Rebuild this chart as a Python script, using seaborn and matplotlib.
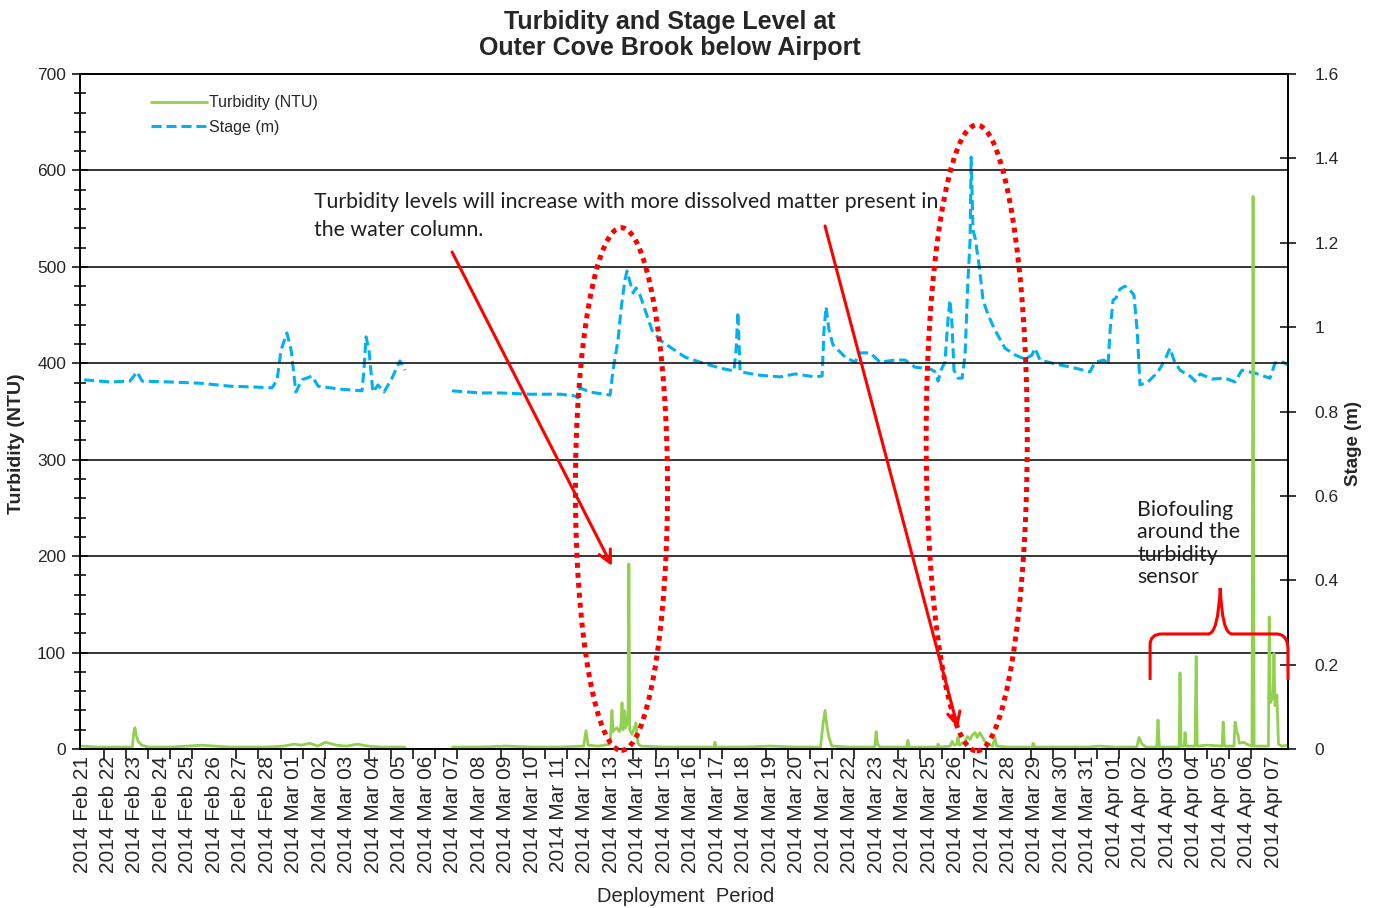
import numpy as np
import pandas as pd
import matplotlib
matplotlib.use("Agg")
import matplotlib.pyplot as plt
from matplotlib.patches import Ellipse, PathPatch
from matplotlib.path import Path
from matplotlib.lines import Line2D
from matplotlib.ticker import FuncFormatter
import seaborn as sns

# ---- data (x = days since 2014-02-21) ----
date_labels = pd.date_range("2014-02-21", "2014-04-07", freq="D").strftime("%Y %b %d").tolist()

stage_day_a = [0.08, 1.06, 1.81, 2.08, 2.27, 3.32, 4.46, 5.59, 6.54, 7.18, 7.37, 7.52, 7.74, 7.90,
               8.08, 8.31, 8.69, 8.92, 9.75, 10.58, 10.65, 10.73, 10.84, 10.99, 11.18, 11.41,
               11.71, 12.01, 12.20]
stage_val_a = [0.875, 0.870, 0.872, 0.894, 0.872, 0.870, 0.867, 0.860, 0.858, 0.856, 0.875, 0.946,
               0.986, 0.946, 0.846, 0.875, 0.884, 0.860, 0.853, 0.849, 0.898, 0.977, 0.946, 0.846,
               0.863, 0.846, 0.879, 0.920, 0.898]

stage_day_b = [13.98, 15.04, 15.79, 16.92, 18.06, 18.62, 18.74, 18.81, 19.19, 19.95, 20.06, 20.25,
               20.36, 20.51, 20.59, 20.70, 20.82, 20.93, 21.08, 21.27, 21.53, 21.84, 22.21, 22.78,
               23.35, 24.10, 24.63, 24.71, 24.78, 24.86, 25.61, 26.37, 26.94, 27.69, 27.96, 28.03,
               28.11, 28.22, 28.37, 28.83, 29.20, 29.39, 29.77, 30.15, 30.71, 31.09, 31.47, 32.04,
               32.23, 32.34, 32.45, 32.60, 32.72, 32.79, 32.87, 32.94, 33.09, 33.25, 33.36, 33.47,
               33.55, 33.59, 33.66, 33.74, 33.89, 34.04, 34.23, 34.49, 34.87, 35.25, 35.63, 35.89,
               36.00, 36.19, 36.76, 37.51, 38.08, 38.27, 38.61, 38.76, 38.84, 38.95, 39.06, 39.21,
               39.40, 39.59, 39.74, 39.86, 39.97, 40.27, 40.65, 40.91, 41.10, 41.25, 41.48, 41.86,
               42.05, 42.24, 42.69, 43.18, 43.56, 43.82, 44.31, 44.88, 45.07, 45.37, 45.56]
stage_val_b = [0.849, 0.844, 0.844, 0.841, 0.841, 0.837, 0.832, 0.856, 0.846, 0.839, 0.898, 0.969,
               1.041, 1.112, 1.133, 1.107, 1.081, 1.093, 1.076, 1.041, 0.993, 0.969, 0.953, 0.929,
               0.917, 0.903, 0.896, 0.946, 1.036, 0.894, 0.886, 0.882, 0.889, 0.882, 0.884, 0.993,
               1.048, 0.993, 0.958, 0.929, 0.917, 0.939, 0.939, 0.917, 0.922, 0.922, 0.905, 0.901,
               0.894, 0.872, 0.898, 0.917, 1.022, 1.064, 1.005, 0.898, 0.879, 0.879, 0.934, 1.112,
               1.206, 1.403, 1.230, 1.211, 1.147, 1.064, 1.029, 0.993, 0.950, 0.934, 0.924, 0.934,
               0.950, 0.922, 0.913, 0.903, 0.894, 0.917, 0.922, 0.910, 0.993, 1.064, 1.069, 1.090,
               1.097, 1.088, 1.076, 0.993, 0.863, 0.870, 0.894, 0.922, 0.950, 0.922, 0.898, 0.884,
               0.872, 0.889, 0.877, 0.879, 0.870, 0.898, 0.891, 0.879, 0.915, 0.917, 0.910]

turb_day_a = [0.0, 0.6, 1.2, 1.9, 1.96, 2.0, 2.05, 2.12, 2.25, 2.5, 3.3, 4.0, 4.5, 5.0, 5.6, 6.5,
              7.0, 7.6, 8.0, 8.3, 8.6, 8.9, 9.2, 9.6, 10.0, 10.4, 10.8, 11.3, 11.8, 12.2]
turb_val_a = [3, 2, 2, 2, 18, 22, 14, 8, 4, 2, 2, 3, 4, 3, 2, 2, 2, 3, 5, 4, 6, 3, 7, 4, 3, 5, 3,
              2, 2, 2]

turb_day_b = [14.0, 15.0, 16.0, 17.0, 18.0, 18.95, 19.04, 19.12, 19.5, 19.95, 20.02, 20.06, 20.12,
              20.2, 20.3, 20.36, 20.4, 20.44, 20.48, 20.53, 20.58, 20.63, 20.66, 20.69, 20.78,
              20.93, 21.0, 21.1, 22.0, 23.0, 23.88, 23.91, 23.95, 25.0, 26.0, 27.0, 27.9, 27.99,
              28.07, 28.15, 28.22, 28.33, 29.0, 29.95, 30.0, 30.05, 30.15, 31.15, 31.2, 31.25,
              32.3, 32.34, 32.4, 32.8, 32.87, 32.95, 33.05, 33.09, 33.15, 33.36, 33.45, 33.55,
              33.65, 33.74, 33.82, 33.92, 34.0, 34.1, 34.23, 34.4, 34.49, 34.55, 35.0, 35.9, 35.93,
              36.0, 37.0, 38.0, 38.46, 39.0, 39.85, 39.93, 40.05, 40.2, 40.6, 40.65, 40.7, 41.45,
              41.48, 41.52, 41.64, 41.67, 41.72, 42.05, 42.09, 42.13, 42.5, 43.07, 43.11, 43.16,
              43.52, 43.56, 43.62, 43.67, 43.72, 43.9, 44.0, 44.2, 44.24, 44.28, 44.6, 44.82,
              44.85, 44.89, 44.93, 44.96, 45.0, 45.03, 45.07, 45.14, 45.2, 45.33, 45.56]
turb_val_b = [2, 2, 3, 2, 2, 3, 19, 4, 3, 5, 40, 18, 20, 22, 18, 24, 48, 20, 40, 22, 25, 40, 192,
              20, 15, 27, 6, 3, 2, 2, 2, 7, 2, 2, 3, 2, 2, 25, 40, 22, 12, 3, 2, 2, 18, 5, 2, 2, 9,
              2, 2, 5, 2, 3, 8, 4, 5, 12, 4, 8, 13, 10, 15, 17, 12, 17, 13, 8, 5, 3, 12, 3, 2, 2, 6,
              2, 2, 2, 3, 2, 2, 12, 5, 2, 2, 30, 2, 2, 79, 3, 3, 17, 3, 3, 96, 3, 4, 3, 28, 3, 3, 28,
              18, 15, 6, 7, 5, 3, 573, 3, 3, 3, 137, 48, 55, 51, 60, 99, 45, 56, 5, 3, 4]

stage_df = pd.DataFrame({
    "day": stage_day_a + stage_day_b,
    "stage": stage_val_a + stage_val_b,
    "seg": ["a"] * len(stage_day_a) + ["b"] * len(stage_day_b),
})
turb_df = pd.DataFrame({
    "day": turb_day_a + turb_day_b,
    "ntu": turb_val_a + turb_val_b,
    "seg": ["a"] * len(turb_day_a) + ["b"] * len(turb_day_b),
})

GREEN = "#92d050"
BLUE = "#00b0f0"
RED = "#ff0000"
STAGE_DASH = (3.3, 1.6)

sns.set_style("ticks")
plt.rcParams["font.family"] = ["Liberation Sans", "DejaVu Sans"]

W, H = 1380, 908
fig = plt.figure(figsize=(W / 100, H / 100), dpi=100)
ax = fig.add_axes([80 / W, 1 - 749 / H, 1208 / W, 675 / H])
ax2 = ax.twinx()

# stage on the secondary axis, turbidity drawn above it
sns.lineplot(data=stage_df, x="day", y="stage", units="seg", estimator=None, sort=False,
             ax=ax2, color=BLUE, lw=2.2, dashes=False)
for ln in ax2.lines:
    ln.set_dashes(STAGE_DASH)
sns.lineplot(data=turb_df, x="day", y="ntu", units="seg", estimator=None, sort=False,
             ax=ax, color=GREEN, lw=2.0)
ax.set_zorder(ax2.get_zorder() + 1)
ax.patch.set_visible(False)

xmin, xmax = -0.076, 45.56
ax.set_xlim(xmin, xmax)
ax.set_ylim(0, 700)
ax2.set_ylim(0, 1.6)

# axes styling
for a in (ax, ax2):
    for s in a.spines.values():
        s.set_visible(True)
        s.set_color("black")
        s.set_linewidth(1.2)
ax.set_yticks(np.arange(0, 701, 100))
ax.set_yticks(np.arange(0, 701, 20), minor=True)
ax.yaxis.grid(True, which="major", color="black", lw=1.1)
ax.tick_params(axis="y", which="major", direction="inout", length=12, width=1.1,
               labelsize=12.5, pad=4, colors="black", labelcolor="#262626")
ax.tick_params(axis="y", which="minor", direction="inout", length=9, width=1.1, colors="black")

ax2.set_yticks(np.arange(0, 1.61, 0.2))
ax2.yaxis.set_major_formatter(FuncFormatter(lambda v, p: f"{v:.1f}".rstrip("0").rstrip(".")))
ax2.tick_params(axis="y", which="major", direction="inout", length=12, width=1.1,
                labelsize=12.5, pad=13, colors="black", labelcolor="#262626")

ax.set_xticks(np.arange(len(date_labels)))
ax.set_xticklabels(date_labels, rotation=90, fontsize=15, color="#262626")
ax.set_xticks(np.linspace(0, len(date_labels) - 1, 55), minor=True)
ax.tick_params(axis="x", which="major", length=0, pad=5)
ax.tick_params(axis="x", which="minor", direction="out", length=7, width=1.1, colors="black")
ax.set_xlabel("")
ax.set_ylabel("")
ax2.set_ylabel("")

# titles and axis labels
fig.text(670 / W, 1 - 35 / H, "Turbidity and Stage Level at\nOuter Cove Brook below Airport",
         ha="center", va="center", fontsize=18, fontweight="bold", linespacing=1.12)
fig.text(17 / W, 1 - 444 / H, "Turbidity (NTU)", rotation=90, ha="center", va="center",
         fontsize=14, fontweight="bold")
fig.text(1353 / W, 1 - 443 / H, "Stage (m)", rotation=90, ha="center", va="center",
         fontsize=13.5, fontweight="bold")
fig.text(686 / W, 1 - 897 / H, "Deployment  Period", ha="center", va="center", fontsize=14.5,
         color="#262626")

# legend
handles = [Line2D([], [], color=GREEN, lw=2.0),
           Line2D([], [], color=BLUE, lw=2.2, dashes=STAGE_DASH)]
ax.legend(handles, ["Turbidity (NTU)", "Stage (m)"], loc="upper left",
          bbox_to_anchor=(0.047, 0.99), frameon=False, fontsize=11.5, handlelength=3.5,
          handletextpad=0.1, labelspacing=0.6)

# annotations
note_font = dict(family=["Lato", "DejaVu Sans"], color="#1f1f1f")
ax.text(8.76, 578, "Turbidity levels will increase with more dissolved matter present in\nthe water column.",
        ha="left", va="top", fontsize=15.3, linespacing=1.5, **note_font)
ax.text(39.87, 258, "Biofouling\naround the\nturbidity\nsensor", ha="left", va="top",
        fontsize=15.4, linespacing=1.14, **note_font)

arrow_kw = dict(arrowstyle="->,head_length=0.9,head_width=0.45", color=RED, lw=2.2,
                shrinkA=0, shrinkB=0)
ax.annotate("", xy=(20.02, 189.8), xytext=(13.98, 515.4), arrowprops=arrow_kw, annotation_clip=False)
ax.annotate("", xy=(33.09, 21.8), xytext=(28.07, 542.4), arrowprops=arrow_kw, annotation_clip=False)

for cx, cy, w, h in [(20.38, 269.6, 3.48, 542), (33.80, 322.5, 3.82, 649)]:
    ax.add_patch(Ellipse((cx, cy), w, h, fill=False, edgecolor=RED, lw=3.6,
                         linestyle=(0, (1, 1)), capstyle="butt", clip_on=False, zorder=5))

brace_verts = [(40.35, 71.6), (40.35, 107.9), (40.35, 119.3), (40.80, 119.3), (42.54, 119.3),
               (42.92, 119.3), (43.0, 167.0), (43.07, 119.3), (43.45, 119.3), (45.11, 119.3),
               (45.56, 119.3), (45.56, 102.7), (45.56, 71.6)]
brace_codes = [Path.MOVETO, Path.LINETO, Path.CURVE3, Path.CURVE3, Path.LINETO, Path.CURVE3,
               Path.CURVE3, Path.CURVE3, Path.CURVE3, Path.LINETO, Path.CURVE3, Path.CURVE3,
               Path.LINETO]
ax.add_patch(PathPatch(Path(brace_verts, brace_codes), fill=False, edgecolor=RED, lw=2.2,
                       clip_on=False, zorder=5))

fig.savefig("out.png", dpi=100, facecolor="white")
